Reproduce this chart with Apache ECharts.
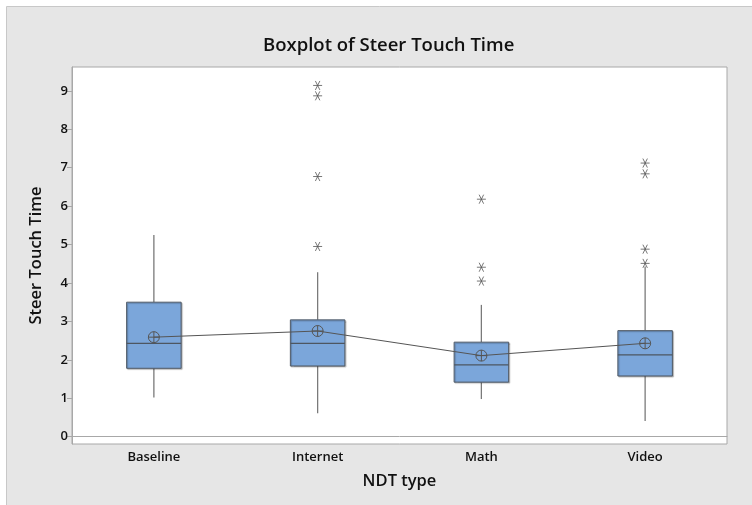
<!DOCTYPE html>
<html>
<head>
<meta charset="utf-8">
<script src="https://cdn.jsdelivr.net/npm/echarts@6/dist/echarts.min.js"></script>
<style>html,body{margin:0;padding:0;background:#fff;}#c{width:752px;height:505px;}</style>
</head>
<body>
<div id="c"></div>
<script>
var categories = ['Baseline', 'Internet', 'Math', 'Video'];
var whiskerLow = [1.02, 0.61, 0.98, 0.41];
var q1 = [1.78, 1.84, 1.42, 1.58];
var medians = [2.43, 2.43, 1.87, 2.13];
var q3 = [3.50, 3.04, 2.46, 2.76];
var whiskerHigh = [5.25, 4.28, 3.43, 4.43];
var means = [2.59, 2.75, 2.11, 2.43];
var outliersInternet = [9.14, 8.87, 6.77, 4.95];
var outliersMath = [6.18, 4.41, 4.05];
var outliersVideo = [7.12, 6.84, 4.88, 4.51];
var yTicks = [0, 1, 2, 3, 4, 5, 6, 7, 8, 9];

var boxData = categories.map(function (c, i) {
  return [i, whiskerLow[i], q1[i], medians[i], q3[i], whiskerHigh[i]];
});
var outlierData = [];
outliersInternet.forEach(function (v) { outlierData.push([1, v]); });
outliersMath.forEach(function (v) { outlierData.push([2, v]); });
outliersVideo.forEach(function (v) { outlierData.push([3, v]); });

var FONT = '"Open Sans", "Noto Sans", sans-serif';
var chart = echarts.init(document.getElementById('c'), null, { renderer: 'canvas' });
chart.setOption({
  animation: false,
  backgroundColor: '#ffffff',
  graphic: [{
    type: 'rect', silent: true, z: -10,
    shape: { x: 6.5, y: 6.5, width: 760, height: 510 },
    style: { fill: '#e6e6e6', stroke: '#c8c8c8', lineWidth: 1 }
  }],
  title: {
    text: 'Boxplot of Steer Touch Time',
    left: 258, top: 31,
    textStyle: { fontFamily: FONT, fontSize: 18.5, fontWeight: 600, color: '#111' }
  },
  grid: {
    left: 72, top: 67, right: 25, bottom: 61,
    show: true, backgroundColor: '#ffffff', borderColor: '#a8a8a8', borderWidth: 1
  },
  xAxis: {
    type: 'category',
    data: categories,
    boundaryGap: true,
    name: 'NDT type', nameLocation: 'middle', nameGap: 29,
    nameTextStyle: { fontFamily: FONT, fontSize: 16.5, fontWeight: 600, color: '#111' },
    axisLine: { lineStyle: { color: '#a8a8a8' } },
    axisTick: { alignWithLabel: true, length: 5, lineStyle: { color: '#a8a8a8' } },
    axisLabel: { fontFamily: FONT, fontSize: 13, fontWeight: 600, color: '#111', margin: 7 },
    splitLine: { show: false }
  },
  yAxis: {
    type: 'value',
    min: -0.19, max: 9.62,
    name: 'Steer Touch Time', nameLocation: 'middle', nameGap: 27,
    nameTextStyle: { fontFamily: FONT, fontSize: 16.5, fontWeight: 600, color: '#111' },
    axisLine: { show: true, lineStyle: { color: '#a8a8a8' } },
    axisTick: { show: true, length: 5, customValues: yTicks, lineStyle: { color: '#a8a8a8' } },
    axisLabel: { fontFamily: FONT, fontSize: 13, fontWeight: 600, color: '#111', margin: 4, customValues: yTicks },
    splitLine: { show: false }
  },
  series: [
    {
      type: 'custom',
      data: boxData,
      encode: { x: 0, y: [1, 2, 3, 4, 5] },
      z: 2,
      renderItem: function (params, api) {
        var i = api.value(0);
        var lo = api.coord([i, api.value(1)]);
        var b1 = api.coord([i, api.value(2)]);
        var md = api.coord([i, api.value(3)]);
        var b3 = api.coord([i, api.value(4)]);
        var hi = api.coord([i, api.value(5)]);
        var w = api.size([1, 0])[0] * 0.333;
        var x = lo[0];
        return {
          type: 'group',
          children: [
            { type: 'line', shape: { x1: x, y1: hi[1], x2: x, y2: b3[1] }, style: { stroke: '#7a7a7a', lineWidth: 1.3 } },
            { type: 'line', shape: { x1: x, y1: b1[1], x2: x, y2: lo[1] }, style: { stroke: '#7a7a7a', lineWidth: 1.3 } },
            { type: 'rect', shape: { x: x - w / 2, y: b3[1], width: w, height: b1[1] - b3[1] },
              style: { fill: '#7ba6da', stroke: '#505a66', lineWidth: 1, shadowColor: 'rgba(0,0,0,0.25)', shadowOffsetX: 1, shadowOffsetY: 1, shadowBlur: 1 } },
            { type: 'line', shape: { x1: x - w / 2, y1: md[1], x2: x + w / 2, y2: md[1] }, style: { stroke: '#4d5661', lineWidth: 1.2 } }
          ]
        };
      }
    },
    {
      type: 'line',
      data: means,
      z: 3,
      symbol: 'path://M0,-10A10,10 0 1,1 0,10A10,10 0 1,1 0,-10ZM-10,0L10,0M0,-10L0,10',
      symbolSize: 11,
      lineStyle: { color: '#555555', width: 1 },
      itemStyle: { color: 'rgba(0,0,0,0)', borderColor: '#555555', borderWidth: 1 }
    },
    {
      type: 'scatter',
      data: outlierData,
      z: 3,
      symbol: 'path://M-10,0L10,0M-5,-8.66L5,8.66M-5,8.66L5,-8.66',
      symbolSize: 9,
      itemStyle: { color: 'rgba(0,0,0,0)', borderColor: '#555555', borderWidth: 1 }
    }
  ]
});
</script>
</body>
</html>
